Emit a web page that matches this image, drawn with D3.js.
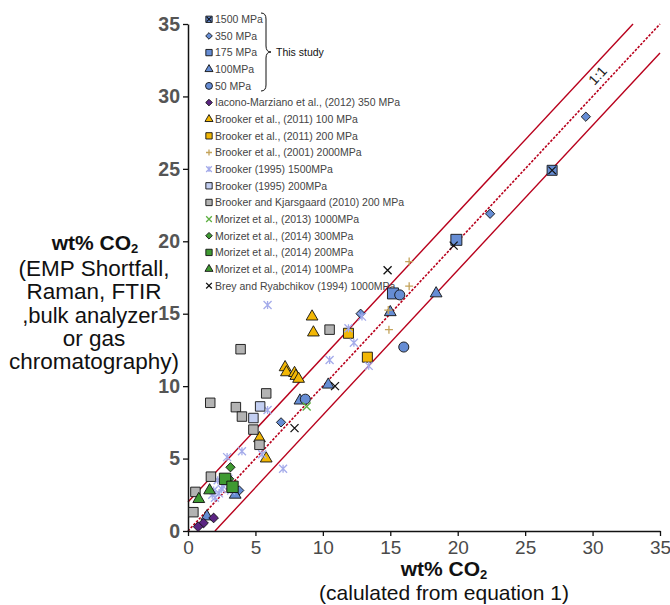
<!DOCTYPE html>
<html>
<head>
<meta charset="utf-8">
<script src="https://cdn.jsdelivr.net/npm/d3@7"></script>
<style>
  body { margin: 0; background: #fff; }
  svg { display: block; font-family: "Liberation Sans", Arial, Helvetica, sans-serif; }
</style>
</head>
<body>
<div id="chart"></div>
<script>
// each point: [wt% CO2 calculated (eq. 1), wt% CO2 measured]
const thisStudy1500 = [[27.0, 24.9]]
const thisStudy350 = [[29.5, 28.6], [22.4, 21.9], [12.8, 15.0], [6.9, 7.5], [3.8, 2.8]]
const thisStudy175 = [[19.9, 20.1], [15.2, 16.4]]
const thisStudy100 = [[18.4, 16.4], [15.0, 15.1], [10.4, 10.1], [8.3, 9.0], [3.5, 2.5], [1.4, 1.0]]
const thisStudy50 = [[16.0, 12.7], [15.7, 16.3], [8.7, 9.1]]
const iacono2012 = [[1.9, 0.9], [1.15, 0.55], [0.75, 0.3]]
const brooker2011_100 = [[9.2, 14.8], [9.3, 13.7], [7.2, 11.3], [7.3, 10.95], [7.9, 10.9],
  [8.0, 10.7], [8.2, 10.5], [5.3, 6.4], [5.8, 5.0]]
const brooker2011_200 = [[11.9, 13.65], [13.3, 12.0]]
const brooker2001 = [[16.4, 18.6], [16.4, 16.9], [14.85, 15.25], [14.9, 13.9]]
const brooker1995_1500 = [[5.9, 15.6], [11.9, 14.0], [12.9, 14.8], [12.3, 13.0], [10.5, 11.8],
  [13.4, 11.4], [5.9, 8.35], [4.0, 5.5], [2.9, 5.1], [5.5, 5.3], [7.05, 4.3], [2.2, 3.5],
  [2.6, 3.1], [1.8, 2.5], [2.3, 2.6], [3.2, 2.8], [1.9, 2.8], [2.5, 2.9], [2.0, 2.3], [3.0, 3.6]]
const brooker1995_200 = [[5.35, 8.6], [4.85, 7.8]]
const brookerKjarsgaard2010 = [[10.5, 13.9], [3.9, 12.55], [1.65, 8.85], [3.55, 8.55], [4.0, 7.9],
  [5.8, 9.5], [4.85, 7.0], [5.3, 5.95], [1.7, 3.75], [0.55, 2.7], [0.4, 1.3]]
const morizet2013_1000 = [[8.8, 8.6]]
const morizet2014_300 = [[3.15, 4.4], [3.05, 3.6]]
const morizet2014_200 = [[2.75, 3.6], [3.3, 3.05]]
const morizet2014_100 = [[1.6, 2.8], [0.8, 2.2]]
const brey1994_1000 = [[14.8, 18.0], [19.7, 19.7], [10.9, 10.0], [7.9, 7.1]]

const axisTicks = [0, 5, 10, 15, 20, 25, 30, 35]
const refOffsets = [2, 0, -2] // y = x + offset

const width = 670
const height = 605

const BLUE = "#668dd4"
const GOLD = "#f2b705"
const GREEN = "#3f9a32"

// custom marker shapes for d3.symbol
const symbolX = {
  draw(ctx, size) {
    const r = Math.sqrt(size) / 2
    ctx.moveTo(-r, -r); ctx.lineTo(r, r)
    ctx.moveTo(r, -r); ctx.lineTo(-r, r)
  }
}
const symbolStar = {
  draw(ctx, size) {
    const r = Math.sqrt(size) / 2
    ctx.moveTo(-r, -r); ctx.lineTo(r, r)
    ctx.moveTo(r, -r); ctx.lineTo(-r, r)
    ctx.moveTo(0, -r); ctx.lineTo(0, r)
  }
}
const symbolPlusThin = {
  draw(ctx, size) {
    const r = Math.sqrt(size) / 2
    ctx.moveTo(-r, 0); ctx.lineTo(r, 0)
    ctx.moveTo(0, -r); ctx.lineTo(0, r)
  }
}

const series = [
  { label: "1500 MPa", data: thisStudy1500, type: d3.symbolSquare, size: 100, legSize: 40, fill: BLUE, cross: true },
  { label: "350 MPa", data: thisStudy350, type: d3.symbolDiamond2, size: 55, legSize: 28, fill: BLUE },
  { label: "175 MPa", data: thisStudy175, type: d3.symbolSquare, size: 121, legSize: 40, fill: BLUE },
  { label: "100MPa", data: thisStudy100, type: d3.symbolTriangle, size: 60, legSize: 28, fill: BLUE },
  { label: "50 MPa", data: thisStudy50, type: d3.symbolCircle, size: 80, legSize: 38, fill: BLUE },
  { label: "Iacono-Marziano et al., (2012) 350 MPa", data: iacono2012, type: d3.symbolDiamond2, size: 60, legSize: 28, fill: "#5b2482" },
  { label: "Brooker et al., (2011) 100 MPa", data: brooker2011_100, type: d3.symbolTriangle, size: 60, legSize: 28, fill: GOLD },
  { label: "Brooker et al., (2011) 200 MPa", data: brooker2011_200, type: d3.symbolSquare, size: 100, legSize: 40, fill: GOLD },
  { label: "Brooker et al., (2001) 2000MPa", data: brooker2001, type: symbolPlusThin, size: 64, legSize: 36, stroke: "#c4a35a" },
  { label: "Brooker (1995) 1500MPa", data: brooker1995_1500, type: symbolStar, size: 64, legSize: 32, stroke: "#a4abea" },
  { label: "Brooker (1995) 200MPa", data: brooker1995_200, type: d3.symbolSquare, size: 90, legSize: 40, fill: "#c3cff2" },
  { label: "Brooker and Kjarsgaard (2010) 200 MPa", data: brookerKjarsgaard2010, type: d3.symbolSquare, size: 90, legSize: 40, fill: "#b3b3b3" },
  { label: "Morizet et al., (2013) 1000MPa", data: morizet2013_1000, type: symbolX, size: 64, legSize: 32, stroke: "#5fb043" },
  { label: "Morizet et al., (2014) 300MPa", data: morizet2014_300, type: d3.symbolDiamond2, size: 55, legSize: 28, fill: GREEN },
  { label: "Morizet et al., (2014) 200MPa", data: morizet2014_200, type: d3.symbolSquare, size: 130, legSize: 40, fill: GREEN },
  { label: "Morizet et al., (2014) 100MPa", data: morizet2014_100, type: d3.symbolTriangle, size: 60, legSize: 28, fill: GREEN },
  { label: "Brey and Ryabchikov (1994) 1000MPa", data: brey1994_1000, type: symbolX, size: 64, legSize: 32, stroke: "#111" }
]

const x = d3.scaleLinear().domain([0, 35]).range([188, 660])
const y = d3.scaleLinear().domain([0, 35]).range([531, 24])

const svg = d3.select("#chart")
  .append("svg")
  .attr("width", width)
  .attr("height", height)
  .attr("viewBox", `0 0 ${width} ${height}`)

// 1:1 line and +-2 wt% envelope
refOffsets.forEach(off => {
  const pts = [[Math.max(0, -off), Math.max(0, off)], [Math.min(35, 35 - off), Math.min(35, 35 + off)]]
  svg.append("path")
    .attr("d", d3.line().x(d => x(d[0])).y(d => y(d[1]))(pts))
    .attr("fill", "none")
    .attr("stroke", "#b8001c")
    .attr("stroke-width", off === 0 ? 1.6 : 1.4)
    .attr("stroke-dasharray", off === 0 ? "2.5,1.5" : null)
})

svg.append("text")
  .attr("transform", `translate(${x(31) - 5},${y(31) - 3}) rotate(-47)`)
  .attr("text-anchor", "middle")
  .attr("font-size", 14)
  .attr("fill", "#222")
  .text("1:1")

// axes
const xAxis = svg.append("g")
  .attr("transform", `translate(0,${y(0)})`)
  .call(d3.axisBottom(x).tickValues(axisTicks).tickSizeInner(5).tickSizeOuter(0).tickPadding(5))
  .attr("font-family", null)
xAxis.select(".domain").attr("stroke", "#111").attr("stroke-width", 1.5)
xAxis.selectAll(".tick line").attr("stroke", "#111").attr("stroke-width", 1.3)
xAxis.selectAll(".tick text")
  .attr("font-size", 19)
  .attr("fill", "#4a4a4a")

const yAxis = svg.append("g")
  .attr("transform", `translate(${x(0)},0)`)
  .call(d3.axisLeft(y).tickValues(axisTicks).tickSizeInner(5).tickSizeOuter(0).tickPadding(3))
  .attr("font-family", null)
yAxis.select(".domain").attr("stroke", "#111").attr("stroke-width", 1.5)
yAxis.selectAll(".tick line").attr("stroke", "#111").attr("stroke-width", 1.3)
yAxis.selectAll(".tick text")
  .attr("font-size", 19.5)
  .attr("font-weight", 700)
  .attr("fill", "#555")

// axis titles
const xTitle = svg.append("text")
  .attr("x", 444).attr("y", 576)
  .attr("text-anchor", "middle")
  .attr("font-size", 21)
  .attr("font-weight", 700)
  .attr("fill", "#111")
xTitle.append("tspan").text("wt% CO")
xTitle.append("tspan").attr("font-size", 13).attr("dy", 3).text("2")

svg.append("text")
  .attr("x", 444).attr("y", 600)
  .attr("text-anchor", "middle")
  .attr("font-size", 21)
  .attr("fill", "#111")
  .text("(calulated from equation 1)")

const yTitle = svg.append("text")
  .attr("x", 95).attr("y", 250)
  .attr("text-anchor", "middle")
  .attr("font-size", 21)
  .attr("font-weight", 700)
  .attr("fill", "#111")
yTitle.append("tspan").text("wt% CO")
yTitle.append("tspan").attr("font-size", 13).attr("dy", 3).text("2")

const yTitleLines = ["(EMP Shortfall,", "Raman, FTIR", ",bulk analyzer", "or gas", "chromatography)"]
yTitleLines.forEach((t, i) => {
  svg.append("text")
    .attr("x", i === 2 ? 90 : 94).attr("y", 276 + i * 23.3)
    .attr("text-anchor", "middle")
    .attr("font-size", i === 2 ? 22 : 22.5)
    .attr("fill", "#111")
    .text(t)
})

// markers
function drawMarker(g, s, size) {
  g.append("path")
    .attr("d", d3.symbol().type(s.type).size(size)())
    .attr("fill", s.fill || "none")
    .attr("stroke", s.fill ? "#111" : s.stroke)
    .attr("stroke-width", s.fill ? 0.9 : 1.3)
  if (s.cross) {
    g.append("path")
      .attr("d", d3.symbol().type(symbolX).size(size * 0.55)())
      .attr("fill", "none")
      .attr("stroke", "#111")
      .attr("stroke-width", 1.1)
  }
}

// legend
const legend = svg.append("g").attr("font-size", 10.5).attr("fill", "#444")
series.forEach((s, i) => {
  const ly = 19.3 + i * 16.65
  const mg = legend.append("g").attr("transform", `translate(209,${ly})`)
  drawMarker(mg, s, s.legSize)
  legend.append("text")
    .attr("x", 215)
    .attr("y", ly + 3.8)
    .text(s.label)
})

// brace for this study
svg.append("path")
  .attr("d", "M261,13 Q266,13 266,19 L266,46 Q266,52 271,52 Q266,52 266,58 L266,85 Q266,91 261,91")
  .attr("fill", "none")
  .attr("stroke", "#111")
  .attr("stroke-width", 1)
svg.append("text")
  .attr("x", 276).attr("y", 55.5)
  .attr("font-size", 10.5)
  .attr("fill", "#111")
  .text("This study")

// data points
const points = svg.append("g")
series.forEach(s => {
  s.data.forEach(d => {
    const g = points.append("g").attr("transform", `translate(${x(d[0])},${y(d[1])})`)
    drawMarker(g, s, s.size)
  })
})
</script>
</body>
</html>
